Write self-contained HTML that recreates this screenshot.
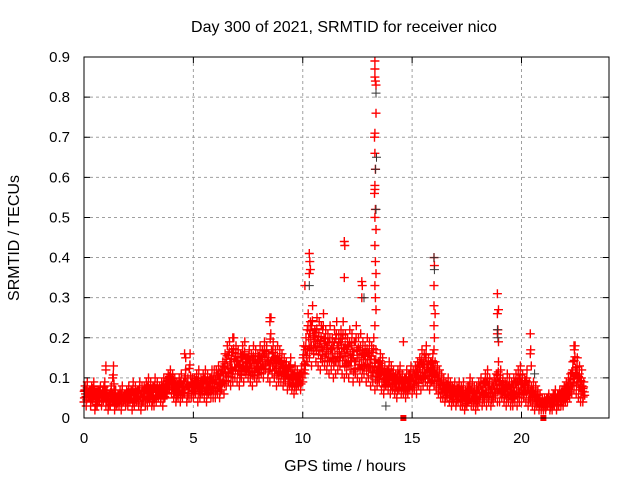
<!DOCTYPE html>
<html><head><meta charset="utf-8"><style>
body{margin:0;background:#fff}
svg{display:block;font-family:"Liberation Sans",sans-serif}
</style></head><body>
<svg id="chart" width="640" height="480" viewBox="0 0 640 480">
<rect width="640" height="480" fill="#fff"/>
<g id="grid"></g>
<g id="marks"></g>
<rect x="84" y="57" width="525" height="361" fill="none" stroke="#000" stroke-width="1"/>
<g id="axes"></g>
<text x="344" y="32" font-size="16" text-anchor="middle">Day 300 of 2021, SRMTID for receiver nico</text>
<text x="345" y="471" font-size="16" text-anchor="middle">GPS time / hours</text>
<text x="19" y="238" font-size="16" text-anchor="middle" transform="rotate(-90 19 238)">SRMTID / TECUs</text>
</svg>
<script>
const xTicks=[0,5,10,15,20];
const yTicks=[0,0.1,0.2,0.3,0.4,0.5,0.6,0.7,0.8,0.9];
const yTickLabels=["0","0.1","0.2","0.3","0.4","0.5","0.6","0.7","0.8","0.9"];
const sampleStart=0, sampleStep=0.1;
const redLo=[4,3,5,3,4,2,3,4,3,5, 3,2,3,4,2,3,3,2,4,3, 3,4,2,3,4,3,2,4,3,3, 4,3,3,4,5,4,3,5,6,7, 6,5,4,5,4,5,6,4,5,5, 5,6,4,5,6,5,4,6,5,5, 5,6,5,7,6,8,9,8,9,10, 9,8,10,9,11,10,9,8,10,9, 10,11,10,12,10,9,11,10,8,9, 9,8,9,7,8,7,6,7,8,7, 9,11,14,15,13,16,14,13,12,14, 13,12,11,12,10,11,12,13,11,10, 11,10,12,9,11,10,9,10,11,9, 10,8,9,7,8,9,7,6,8,7, 6,7,6,5,7,6,6,5,6,7, 6,7,6,8,7,8,9,8,7,9, 8,7,6,5,5,4,5,4,3,4, 3,4,3,3,2,3,4,3,3,2, 3,4,3,4,3,4,3,4,5,4, 4,5,4,3,4,3,3,4,3,4, 4,5,4,3,4,3,2,3,2,2, 2,2,3,2,2,3,2,3,3,3, 4,4,5,6,7,6,5,4,4];
const redHi=[8,9,7,8,9,6,7,8,7,9, 7,6,8,13,7,6,7,8,6,7, 8,7,9,8,7,9,8,8,9,10, 9,8,10,9,8,9,10,9,11,12, 11,10,9,10,11,9,12,10,16,10, 10,11,12,10,11,12,11,10,12,12, 12,13,11,14,16,18,19,17,20,18, 17,16,18,19,15,17,16,18,17,16, 18,17,19,18,16,25,19,17,18,17, 16,15,14,13,15,12,13,12,11,13, 18,20,26,24,28,22,25,24,23,26, 22,21,23,20,22,24,21,22,24,21, 20,22,21,19,23,20,21,19,18,20, 19,18,20,17,14,16,15,13,12,14, 13,12,11,12,13,11,10,12,11,13, 12,13,14,15,17,16,18,15,14,16, 14,13,12,11,10,9,10,9,8,9, 8,9,8,9,7,8,10,9,8,8, 9,10,9,11,12,10,9,10,11,14, 12,10,9,11,10,9,10,11,12,13, 11,10,12,9,8,9,8,7,6,5, 5,5,6,5,6,7,6,7,7,8, 9,10,11,14,18,15,13,12,9];
const spikeT=[1.0,1.0,4.6,4.65,6.8,8.5,8.5,10.3,10.32,10.35,10.3,10.1,11.9,11.92,11.9,12.7,12.72,12.7,13.3,13.3,13.3,13.32,13.35,13.35,13.3,13.28,13.3,13.32,13.3,13.3,13.28,13.32,13.3,13.35,13.3,13.32,13.35,13.3,13.32,13.35,13.3,14.6,16.0,16.02,16.0,16.0,16.05,16.0,16.02,16.0,18.9,18.95,18.9,18.92,18.9,18.95,20.4,20.42,20.4,20.45,22.4,22.42];
const spikeV=[.13,.12,.16,.15,.2,.25,.24,.41,.39,.37,.36,.33,.44,.43,.35,.34,.33,.30,.89,.87,.85,.84,.83,.76,.71,.70,.66,.62,.58,.57,.56,.52,.50,.47,.43,.39,.36,.33,.30,.27,.23,.19,.40,.38,.33,.28,.26,.23,.20,.17,.31,.27,.26,.22,.21,.19,.21,.17,.16,.13,.18,.17];
const blackT=[13.35,13.37,13.33,13.35,16.0,16.02,12.8,18.9,18.92,10.3,13.8,20.6];
const blackV=[.81,.65,.62,.52,.40,.37,.30,.22,.20,.33,.03,.11];
const squareT=[14.6,21.0];
const squareV=[0,0];

const X=t=>84+t*(525/24);
const Y=v=>418-v*(361/0.9);
const NS="http://www.w3.org/2000/svg";
const grid=document.getElementById('grid'),axes=document.getElementById('axes'),marks=document.getElementById('marks');
function mk(tag,attrs,parent){const e=document.createElementNS(NS,tag);for(const k in attrs)e.setAttribute(k,attrs[k]);parent.appendChild(e);return e;}
xTicks.forEach(t=>{
  if(t>0){const g=mk('line',{x1:X(t),x2:X(t),y1:57,y2:418,stroke:'#a0a0a0','stroke-dasharray':'3,3'},grid);
  
  }
  const tk=mk('path',{d:`M${X(t)} 418v-6M${X(t)} 57v6`,stroke:'#000'},axes);
  
  
  const l=mk('text',{x:X(t),y:443,'font-size':15,'text-anchor':'middle'},axes);l.textContent=t;
  
  
});
yTicks.forEach((v,i)=>{
  if(v>0&&v<0.9){const g=mk('line',{x1:84,x2:609,y1:Y(v),y2:Y(v),stroke:'#a0a0a0','stroke-dasharray':'3,3'},grid);
  
  }
  const tk=mk('path',{d:`M84 ${Y(v)}h6M609 ${Y(v)}h-6`,stroke:'#000'},axes);
  
  
  const l=mk('text',{x:70,y:Y(v)+5,'font-size':15,'text-anchor':'end'},axes);l.textContent=yTickLabels[i];
  
  
});
function plus(t,v){const x=X(t),y=Y(v);return `M${(x-4.5).toFixed(1)} ${y.toFixed(1)}h9M${x.toFixed(1)} ${(y-4.5).toFixed(1)}v9`;}
let d='';
redLo.forEach((lo,i)=>{
  const hi=redHi[i],t=sampleStart+i*sampleStep;
  const a=lo/100,b=hi/100;
  d+=plus(t,a)+plus(t+0.05,b)+plus(t+0.02,a+(b-a)/4)+plus(t+0.07,a+(b-a)/2)+plus(t+0.04,a+3*(b-a)/4)+plus(t+0.09,a+(b-a)/3)+plus(t+0.01,a+2*(b-a)/3);
});
spikeT.forEach((t,i)=>{d+=plus(t,spikeV[i]);});
const pr=mk('path',{d:d,stroke:'#ff0000',fill:'none','stroke-width':1.4},marks);


let db='';
blackT.forEach((t,i)=>{db+=plus(t,blackV[i]);});
const pb=mk('path',{d:db,stroke:'#333',fill:'none','stroke-width':1},marks);


squareT.forEach((t,i)=>{
  const s=mk('rect',{x:X(t)-3,y:Y(squareV[i])-3,width:6,height:6,fill:'#ff0000'},marks);
  
  
});
</script>
</body></html>
